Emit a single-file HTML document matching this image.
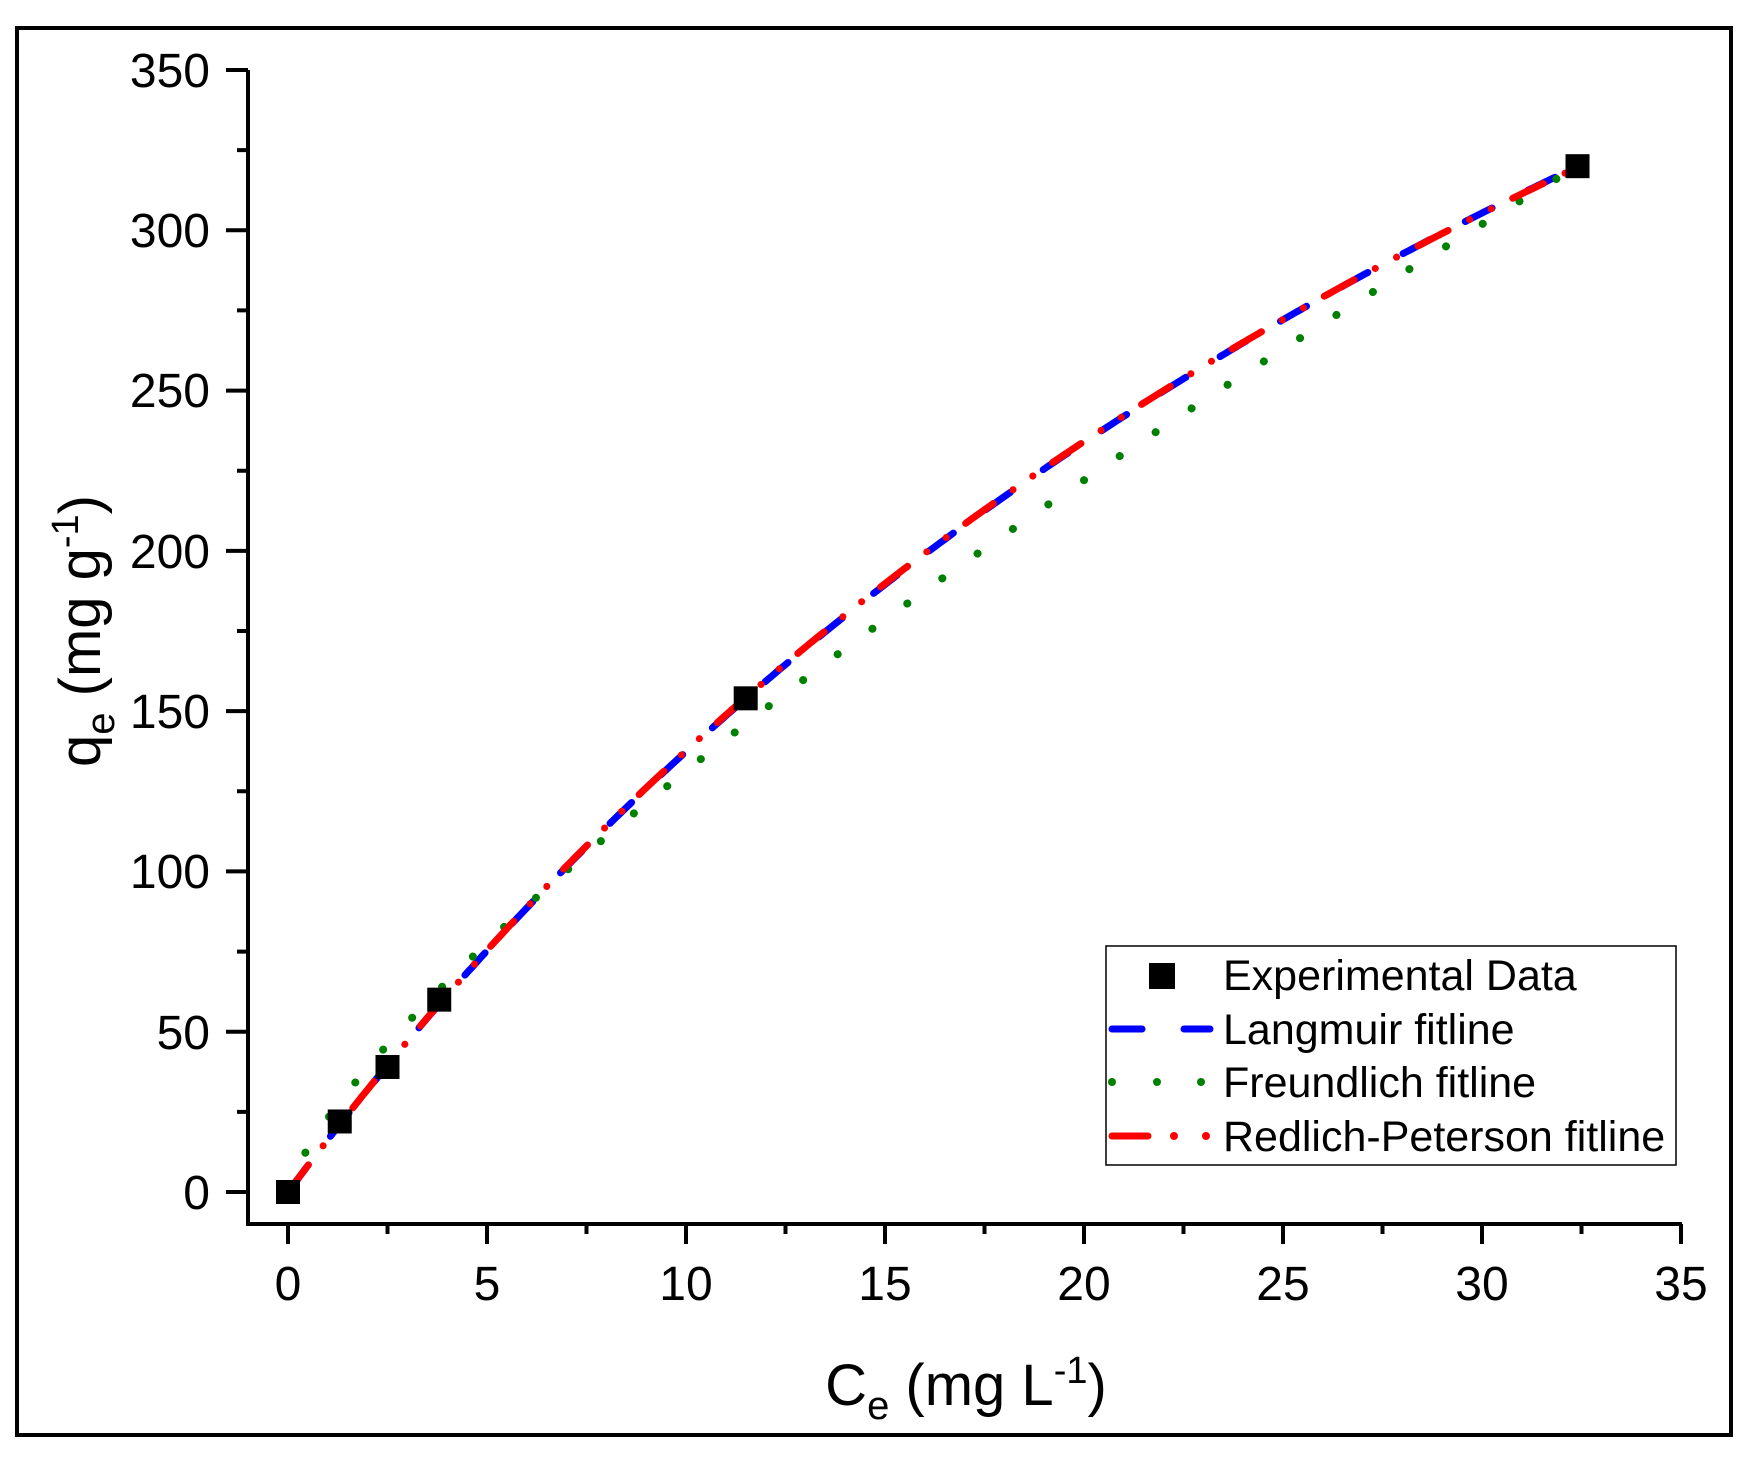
<!DOCTYPE html>
<html><head><meta charset="utf-8"><style>
html,body{margin:0;padding:0;background:#fff;}
svg{display:block;}
text{font-family:"Liberation Sans",Arial,sans-serif;fill:#000;}
</style></head><body>
<svg id="s" width="1746" height="1459" viewBox="0 0 1746 1459" xmlns="http://www.w3.org/2000/svg">
<rect x="0" y="0" width="1746" height="1459" fill="#fff"/>
<rect x="17" y="28" width="1714" height="1407" fill="none" stroke="#000" stroke-width="4"/>
<g id="ticks" stroke="#000" stroke-width="4"></g>
<path d="M248,70 V1224 H1682" fill="none" stroke="#000" stroke-width="4"/>
<g font-size="48" text-anchor="middle">
<text x="288" y="1300">0</text><text x="487" y="1300">5</text><text x="686" y="1300">10</text>
<text x="885" y="1300">15</text><text x="1084" y="1300">20</text><text x="1283" y="1300">25</text>
<text x="1482" y="1300">30</text><text x="1681" y="1300">35</text>
</g>
<g font-size="48" text-anchor="end">
<text x="210" y="1209">0</text><text x="210" y="1049">50</text><text x="210" y="888">100</text>
<text x="210" y="728">150</text><text x="210" y="568">200</text><text x="210" y="407">250</text>
<text x="210" y="247">300</text><text x="210" y="87">350</text>
</g>
<text x="966" y="1405" font-size="58" text-anchor="middle">C<tspan font-size="40" dy="14">e</tspan><tspan dy="-14"> (mg L</tspan><tspan font-size="38" dy="-22">-1</tspan><tspan dy="22">)</tspan></text>
<text transform="translate(100,631) rotate(-90)" font-size="58" text-anchor="middle">q<tspan font-size="40" dy="14">e</tspan><tspan dy="-14"> (mg g</tspan><tspan font-size="38" dy="-22">-1</tspan><tspan dy="22">)</tspan></text>
<g id="curves" fill="none" stroke-linecap="round"></g>
<g id="pts"></g>
<rect x="1106" y="946" width="570" height="219" fill="#fff" stroke="#000" stroke-width="1.5"/>
<rect x="1149" y="963" width="26" height="26" fill="#000"/>
<line x1="1112" y1="1029" x2="1142" y2="1029" stroke="#0000ff" stroke-width="7" stroke-linecap="round"/>
<line x1="1184" y1="1029" x2="1210" y2="1029" stroke="#0000ff" stroke-width="7" stroke-linecap="round"/>
<g fill="#008000"><circle cx="1112" cy="1082" r="4"/><circle cx="1157" cy="1082" r="4"/><circle cx="1201" cy="1082" r="4"/></g>
<line x1="1112" y1="1136" x2="1148" y2="1136" stroke="#ff0000" stroke-width="7" stroke-linecap="round"/>
<circle cx="1174" cy="1136" r="4" fill="#ff0000"/><circle cx="1206" cy="1136" r="4" fill="#ff0000"/>
<g font-size="43">
<text x="1223" y="990">Experimental Data</text>
<text x="1223" y="1044">Langmuir fitline</text>
<text x="1223" y="1097">Freundlich fitline</text>
<text x="1223" y="1151">Redlich-Peterson fitline</text>
</g>
</svg>
<script>
(function(){
var NS="http://www.w3.org/2000/svg";
function X(c){return 288+c*39.8;}
function Y(q){return 1192-q*(1122/350);}
var t=document.getElementById("ticks"),s="";
for(var i=0;i<=14;i++){var x=X(i*2.5);var L=(i%2==0)?20:10;s+="M"+x+",1224v"+L;}
for(var j=0;j<=14;j++){var y=Y(j*25);var L2=(j%2==0)?22:11;s+="M248,"+y+"h-"+L2;}
var p=document.createElementNS(NS,"path");p.setAttribute("d",s);t.appendChild(p);
function lang(c){return 786*0.02118*c/(1+0.02118*c);}
function fr(c){return 22.95*Math.pow(c,0.7576);}
function rp(c){return 16.65*c/(1+0.0205*Math.pow(c,1.01));}
function mk(f,col,dash,w){var d="";for(var k=0;k<=400;k++){var c=k*32.4/400;d+=(k?"L":"M")+X(c).toFixed(1)+","+Y(f(c)).toFixed(1);}
var e=document.createElementNS(NS,"path");e.setAttribute("d",d);e.setAttribute("stroke",col);e.setAttribute("stroke-width",w);e.setAttribute("stroke-dasharray",dash);document.getElementById("curves").appendChild(e);}
mk(lang,"#0000ff","30 40",7);
mk(fr,"#008000","0.1 43",8);
mk(rp,"#ff0000","34 24 0.1 24 0.1 24",7);
var pts=[[0,0],[1.3,22],[2.5,39],[3.8,60],[11.5,154],[32.4,320]];
pts.forEach(function(a){var r=document.createElementNS(NS,"rect");r.setAttribute("x",X(a[0])-12);r.setAttribute("y",Y(a[1])-12);r.setAttribute("width",24);r.setAttribute("height",24);r.setAttribute("fill","#000");document.getElementById("pts").appendChild(r);});
})();
</script>
</body></html>
